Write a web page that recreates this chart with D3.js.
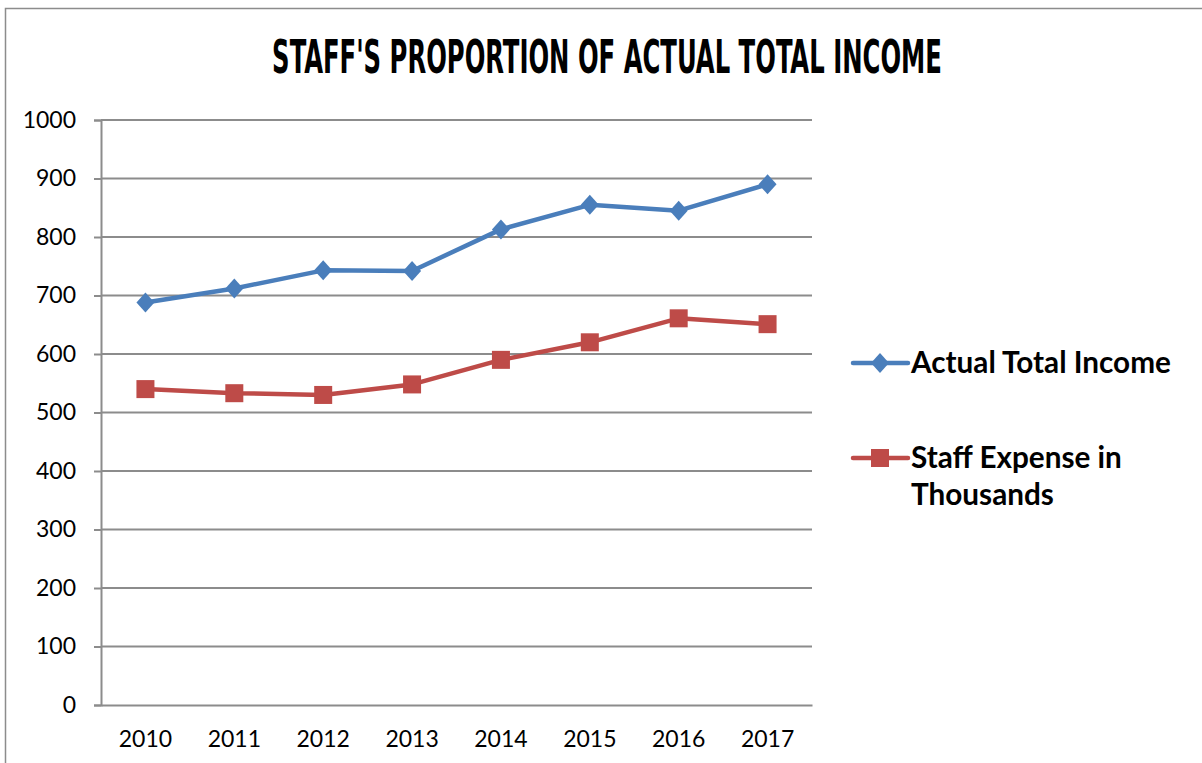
<!DOCTYPE html>
<html>
<head>
<meta charset="utf-8">
<script src="https://cdn.jsdelivr.net/npm/d3@7"></script>
<style>
  html, body { margin: 0; padding: 0; background: #fff; }
  svg { display: block; }
</style>
</head>
<body>
<svg id="chart" width="1202" height="763"></svg>
<script>
// Years on the category axis
const years = ["2010", "2011", "2012", "2013", "2014", "2015", "2016", "2017"];
// Series values
const actualTotalIncome = [688, 712, 743, 742, 813, 855, 845, 890];
const staffExpense = [540, 533, 530, 548, 590, 620, 661, 651];
// Value axis ticks
const yTicks = [0, 100, 200, 300, 400, 500, 600, 700, 800, 900, 1000];
// Legend names
const seriesNames = ["Actual Total Income", "Staff Expense in Thousands"];

const svg = d3.select("#chart");
const W = 1202, H = 763;
const plot = { left: 101, right: 812, top: 120, bottom: 705 };

// Frame around the chart
svg.append("rect")
  .attr("x", 5.5).attr("y", 8.5)
  .attr("width", W + 10).attr("height", H + 10)
  .attr("fill", "#fff").attr("stroke", "#8c8c8c").attr("stroke-width", 1.5);

// Title: a condensed look made by squeezing a bold face horizontally
const titleWidth = 670;
const titleG = svg.append("g");
const title = titleG.append("text")
  .attr("x", 0).attr("y", 0)
  .attr("text-anchor", "middle")
  .style("font-family", "'DejaVu Sans Condensed', 'DejaVu Sans', sans-serif")
  .style("font-weight", "bold")
  .style("font-size", "47px")
  .attr("fill", "#000")
  .text("STAFF'S PROPORTION OF ACTUAL TOTAL INCOME");
const natural = title.node().getComputedTextLength();
titleG.attr("transform", `translate(607,73) scale(${titleWidth / natural},1)`);

const x = d3.scaleBand().domain(years).range([plot.left, plot.right]);
const y = d3.scaleLinear().domain([0, 1000]).range([plot.bottom, plot.top]);

// Horizontal gridlines
svg.append("g")
  .selectAll("line")
  .data(yTicks.filter(d => d > 0))
  .join("line")
  .attr("x1", plot.left).attr("x2", plot.right)
  .attr("y1", d => y(d)).attr("y2", d => y(d))
  .attr("stroke", "#8c8c8c").attr("stroke-width", 2);

// Value axis
const yAxis = svg.append("g")
  .attr("transform", `translate(${plot.left},0)`)
  .call(d3.axisLeft(y).tickValues(yTicks).tickSize(7).tickPadding(18).tickFormat(d3.format("d")));
yAxis.select(".domain").attr("stroke", "#8c8c8c").attr("stroke-width", 2);
yAxis.selectAll(".tick line").attr("stroke", "#8c8c8c").attr("stroke-width", 2);
yAxis.selectAll(".tick text")
  .attr("fill", "#000")
  .style("font-family", "Lato, 'Open Sans', sans-serif")
  .style("font-size", "23px");

// Category axis
const xAxis = svg.append("g")
  .attr("transform", `translate(0,${plot.bottom})`)
  .call(d3.axisBottom(x).tickSize(0).tickPadding(26));
xAxis.select(".domain").attr("stroke", "#8c8c8c").attr("stroke-width", 2);
xAxis.selectAll(".tick text")
  .attr("fill", "#000")
  .style("font-family", "Lato, 'Open Sans', sans-serif")
  .style("font-size", "23px");

const cx = d => x(d) + x.bandwidth() / 2;
const line = d3.line().x(d => cx(d.year)).y(d => y(d.value));

const series = [
  { name: seriesNames[0], values: actualTotalIncome, color: "#4a7ebb", marker: "diamond" },
  { name: seriesNames[1], values: staffExpense, color: "#be4b48", marker: "square" }
];

function drawMarker(g, type, color) {
  if (type === "diamond") {
    g.append("path").attr("d", "M0,-10L9,0L0,10L-9,0Z").attr("fill", color);
  } else {
    g.append("rect").attr("x", -9).attr("y", -9).attr("width", 18).attr("height", 18).attr("fill", color);
  }
}

series.forEach(s => {
  const pts = years.map((yr, i) => ({ year: yr, value: s.values[i] }));
  svg.append("path")
    .datum(pts)
    .attr("d", line)
    .attr("fill", "none")
    .attr("stroke", s.color)
    .attr("stroke-width", 4.5)
    .attr("stroke-linejoin", "round");
  pts.forEach(p => {
    const g = svg.append("g").attr("transform", `translate(${cx(p.year)},${y(p.value)})`);
    drawMarker(g, s.marker, s.color);
  });
});

// Legend
const legend = [
  { y: 363, lines: ["Actual Total Income"], s: series[0] },
  { y: 458, lines: ["Staff Expense in", "Thousands"], s: series[1] }
];
legend.forEach(l => {
  svg.append("line")
    .attr("x1", 853).attr("x2", 908)
    .attr("y1", l.y).attr("y2", l.y)
    .attr("stroke", l.s.color).attr("stroke-width", 4.5).attr("stroke-linecap", "round");
  const g = svg.append("g").attr("transform", `translate(880,${l.y})`);
  drawMarker(g, l.s.marker, l.s.color);
  const t = svg.append("text")
    .attr("x", 911).attr("y", l.y + 10)
    .attr("fill", "#000")
    .style("font-family", "Lato, 'Open Sans', sans-serif")
    .style("font-weight", "bold")
    .style("font-size", "29.7px");
  l.lines.forEach((ln, i) => {
    t.append("tspan").attr("x", 911).attr("dy", i === 0 ? 0 : 37).text(ln);
  });
});
</script>
</body>
</html>
